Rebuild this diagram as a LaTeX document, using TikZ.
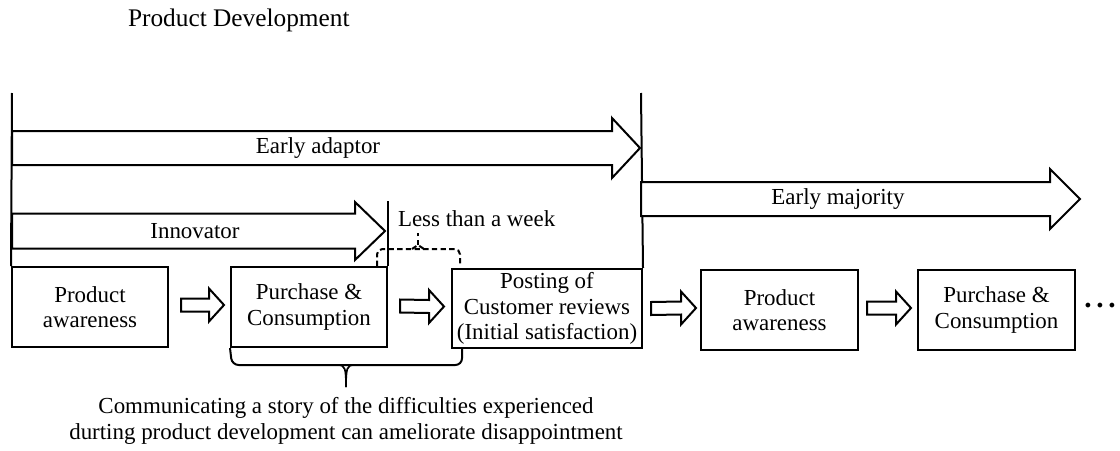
\documentclass[tikz,border=0pt]{standalone}
\usepackage{fontspec}
\setmainfont{Liberation Serif}
\usetikzlibrary{calc}

% block arrow from coordinate #1 to tip coordinate #2 (same height):
% #3 shaft half height, #4 head half height, #5 head length
\newcommand\blockarrow[5]{%
  \draw[barrow] ($(#1)+(0,-#3)$) -- ($(#2)+(-#5,-#3)$) -- ($(#2)+(-#5,-#4)$)
    -- (#2) -- ($(#2)+(-#5,#4)$) -- ($(#2)+(-#5,#3)$) -- ($(#1)+(0,#3)$) -- cycle;}

\begin{document}
\begin{tikzpicture}[x=0.75pt,y=-0.75pt,
  line width=1.5pt,
  every node/.style={font=\fontsize{17.2}{19}\selectfont},
  stagebox/.style={draw, line width=1.5pt, align=center, inner sep=0pt},
  barrow/.style={draw, line width=1.5pt, line join=miter, fill=white},
  note/.style={align=center, inner sep=0pt}]
\useasboundingbox (0,0) rectangle (1120,450);

% title
\node[anchor=west, font=\fontsize{19}{21}\selectfont, inner sep=0pt] (title) at (127,20) {Product Development};

% stage boxes
\node[stagebox, minimum width=117pt, minimum height=60pt] (pa1) at (90,307) {Product\\awareness};
\node[stagebox, minimum width=117pt, minimum height=60pt] (pc1) at (309,307) {Purchase \&\\Consumption};
\node[stagebox, minimum width=142.5pt, minimum height=59.25pt] (post) at (547,308.5) {Posting of\\Customer reviews\\(Initial satisfaction)};
\node[stagebox, minimum width=117.75pt, minimum height=60pt] (pa2) at (779.5,310) {Product\\awareness};
\node[stagebox, minimum width=117.75pt, minimum height=60pt] (pc2) at (996.5,310) {Purchase \&\\Consumption};
\node[inner sep=0pt, font=\fontsize{22}{22}\selectfont\bfseries] (dots) at (1100,306)
  {.\hspace{3.5pt}.\hspace{3.5pt}.};

% phase boundaries
\coordinate (top1) at (12,93);
\coordinate (top2) at (641,93);
\draw (top1) -- (pa1.north west);
\draw (top2) -- (post.north east);
\draw (pc1.north east) -- ++(0,-65);

% adopter group arrows
\coordinate (ea0) at (12,148);   \coordinate (ea1) at (640,148);
\coordinate (in0) at (12,231);   \coordinate (in1) at (385,231);
\coordinate (em0) at (641,199);  \coordinate (em1) at (1080,199);
\blockarrow{ea0}{ea1}{17}{30}{28}
\blockarrow{in0}{in1}{17.5}{29}{30}
\blockarrow{em0}{em1}{17}{30}{30}
\node (ealabel) at (318,148) {Early adaptor};
\node (inlabel) at (195,231) {Innovator};
\node (emlabel) at (838,199) {Early majority};

% flow arrows between stages
\coordinate (f1a) at ($(pa1.east)+(12,-2)$);  \coordinate (f1b) at ($(pc1.west)+(-6,-2)$);
\coordinate (f2a) at ($(pc1.east)+(12,-1)$);  \coordinate (f2b) at ($(post.west)+(-7,-2)$);
\coordinate (f3a) at ($(post.east)+(8,0)$);   \coordinate (f3b) at ($(pa2.west)+(-4,-2)$);
\coordinate (f4a) at ($(pa2.east)+(8,-2)$);   \coordinate (f4b) at ($(pc2.west)+(-6,-2)$);
\blockarrow{f1a}{f1b}{6.5}{16.5}{15}
\blockarrow{f2a}{f2b}{6.5}{16.5}{15}
\blockarrow{f3a}{f3b}{6.5}{16.5}{15}
\blockarrow{f4a}{f4b}{6.5}{16.5}{15}

% "less than a week" bracket (dashed)
\draw[dashed, dash pattern=on 4pt off 2.5pt, rounded corners=4pt]
  (377,266) -- (377,249) -- (460,249) -- (460,266);
\draw[dashed, dash pattern=on 4pt off 2.5pt] (412,249) -- (418,245) -- (424,249);
\draw[dashed, dash pattern=on 4pt off 2.5pt] (418,245) -- (418,233);
\node[anchor=west, inner sep=0pt] (week) at (397,219) {Less than a week};

% brace under purchase and posting
\draw[rounded corners=5pt] (pc1.south west) -- (232,365) -- (462,365) -- (462,348.5);
\draw[line width=1.3pt] (338,365) .. controls (345,365) and (346,368) .. (346,387);
\draw[line width=1.3pt] (354,365) .. controls (347,365) and (346,368) .. (346,387);
\node[note, font=\fontsize{17.2}{20}\selectfont] (story) at (346,421)
  {Communicating a story of the difficulties experienced\\durting product development can ameliorate disappointment};
\end{tikzpicture}
\end{document}
